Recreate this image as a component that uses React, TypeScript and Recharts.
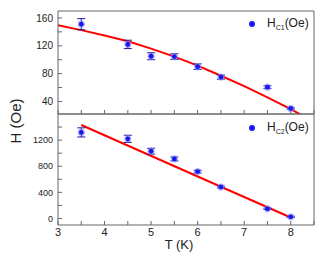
import { ComposedChart, Scatter, Line, XAxis, YAxis, ErrorBar } from 'recharts'

// measured critical fields
const temps = [3.5, 4.5, 5, 5.5, 6, 6.5, 7.5, 8]
const hc1 = [151, 122, 105, 104.5, 90, 75, 60.5, 30]
const hc1Err = [8, 6, 5, 4, 4, 3, 2, 1]
const hc2 = [1318, 1220, 1030, 912, 718, 482, 148, 25]
const hc2Err = [70, 55, 45, 30, 20, 15, 10, 10]

// fitted curves
const fit1T = [3, 3.5, 4, 4.5, 5, 5.5, 6, 6.5, 7, 7.5, 8, 8.3]
const fit1H = [149.5, 142.5, 134.8, 126.5, 116, 104.5, 91.5, 77, 62, 46, 29, 18]
const fit2T = [3.5, 6.5, 8]
const fit2H = [1431, 486, 15]

const xTicks = [3, 3.5, 4, 4.5, 5, 5.5, 6, 6.5, 7, 7.5, 8, 8.5]
const y1Ticks = [40, 60, 80, 100, 120, 140, 160]
const y2Ticks = [0, 200, 400, 600, 800, 1000, 1200, 1400]

const font = '"Liberation Sans", Arial, sans-serif'
const axisColor = '#666'

const pts1 = temps.map((t, i) => ({ t, h: hc1[i], err: hc1Err[i] }))
const pts2 = temps.map((t, i) => ({ t, h: hc2[i], err: hc2Err[i] }))
const line1 = fit1T.map((t, i) => ({ t, h: fit1H[i] }))
const line2 = fit2T.map((t, i) => ({ t, h: fit2H[i] }))

const Dot = (p: any) => (
  <g>
    <circle cx={p.cx} cy={p.cy} r={3.6} fill="#8c8cff" opacity={0.6} />
    <circle cx={p.cx} cy={p.cy} r={2.4} fill="#1818ee" />
  </g>
)

const blank = () => ''

function LegendItem({ top, sub }: { top: number; sub: string }) {
  return (
    <div style={{ position: 'absolute', left: 249, top, fontFamily: font, fontSize: 12, color: '#222', whiteSpace: 'nowrap' }}>
      <span style={{ display: 'inline-block', width: 6, height: 6, borderRadius: 3, background: '#1818ee', marginRight: 12, verticalAlign: 'middle' }} />
      H<sub style={{ fontSize: 7 }}>{sub}</sub>(Oe)
    </div>
  )
}

export default function App() {
  const tickStyle = { fill: '#222', fontFamily: font }
  return (
    <div style={{ position: 'absolute', left: 0, top: 0, width: 328, height: 256, background: '#fff' }}>
      <ComposedChart width={328} height={115} margin={{ top: 10, right: 13, bottom: 0, left: 8 }} style={{ position: 'absolute', left: 0, top: 0 }}>
        <XAxis xAxisId="b" type="number" dataKey="t" domain={[3, 8.5]} ticks={xTicks} height={1} orientation="bottom"
          tickFormatter={blank} tickSize={-4} stroke={axisColor} allowDataOverflow />
        <XAxis xAxisId="t" type="number" dataKey="t" domain={[3, 8.5]} ticks={xTicks} height={1} orientation="top"
          tickFormatter={blank} tickSize={-4} stroke={axisColor} />
        <YAxis yAxisId="l" type="number" domain={[22, 170]} ticks={y1Ticks} width={50} tickSize={-4} tickMargin={9}
          tickFormatter={(v: number) => (v % 40 === 0 ? String(v) : '')} tick={{ ...tickStyle, fontSize: 10 }} stroke={axisColor} allowDataOverflow />
        <YAxis yAxisId="r" orientation="right" type="number" domain={[22, 170]} ticks={y1Ticks} width={1} tickSize={-4}
          tickFormatter={blank} stroke={axisColor} />
        <Line xAxisId="b" yAxisId="l" data={line1} dataKey="h" stroke="#ff0000" strokeWidth={2} dot={false} isAnimationActive={false} />
        <Scatter xAxisId="b" yAxisId="l" data={pts1} dataKey="h" shape={Dot} isAnimationActive={false}>
          <ErrorBar dataKey="err" direction="y" width={4} stroke="#1a1a9a" strokeWidth={1} />
        </Scatter>
      </ComposedChart>
      <ComposedChart width={328} height={256} margin={{ top: 113, right: 13, bottom: 1, left: 8 }} style={{ position: 'absolute', left: 0, top: 0 }}>
        <XAxis xAxisId="b" type="number" dataKey="t" domain={[3, 8.5]} ticks={xTicks} height={30} orientation="bottom"
          tickFormatter={(v: number) => (Number.isInteger(v) && v < 8.5 ? String(v) : '')} tickSize={-4} tickMargin={7}
          tick={{ ...tickStyle, fontSize: 11 }} stroke={axisColor}
          label={{ value: 'T (K)', position: 'insideBottom', offset: 6, dx: -7, fontSize: 13, fill: '#222', fontFamily: font }} />
        <XAxis xAxisId="t" type="number" dataKey="t" domain={[3, 8.5]} ticks={xTicks} height={1} orientation="top"
          tickFormatter={blank} tickSize={-4} stroke={axisColor} />
        <YAxis yAxisId="l" type="number" domain={[-100, 1600]} ticks={y2Ticks} width={50} tickSize={-4} tickMargin={9}
          tickFormatter={(v: number) => (v % 400 === 0 ? String(v) : '')} tick={{ ...tickStyle, fontSize: 9 }} stroke={axisColor} allowDataOverflow />
        <YAxis yAxisId="r" orientation="right" type="number" domain={[-100, 1600]} ticks={y2Ticks} width={1} tickSize={-4}
          tickFormatter={blank} stroke={axisColor} />
        <Line xAxisId="b" yAxisId="l" data={line2} dataKey="h" stroke="#ff0000" strokeWidth={2} dot={false} isAnimationActive={false} />
        <Scatter xAxisId="b" yAxisId="l" data={pts2} dataKey="h" shape={Dot} isAnimationActive={false}>
          <ErrorBar dataKey="err" direction="y" width={4} stroke="#1a1a9a" strokeWidth={1} />
        </Scatter>
      </ComposedChart>
      <LegendItem top={16} sub="C1" />
      <LegendItem top={120} sub="C2" />
      <div style={{ position: 'absolute', left: 15, top: 121, transform: 'translate(-50%, -50%) rotate(-90deg)', fontFamily: font, fontSize: 15, color: '#222', whiteSpace: 'nowrap' }}>
        H (Oe)
      </div>
    </div>
  )
}
